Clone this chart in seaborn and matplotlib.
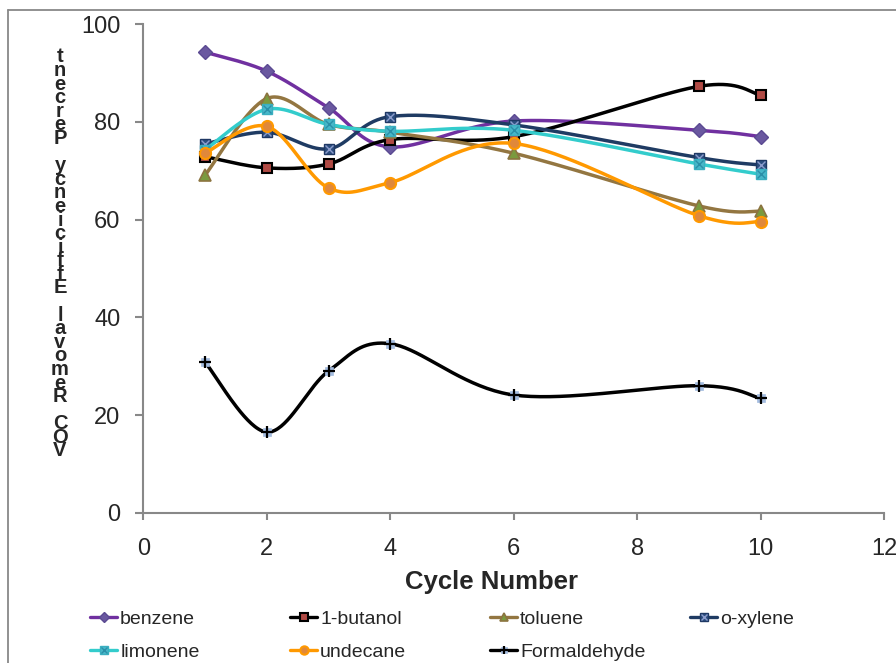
import numpy as np
import pandas as pd
import matplotlib
matplotlib.use("Agg")
import matplotlib.pyplot as plt
from matplotlib.lines import Line2D
from matplotlib.legend_handler import HandlerTuple
import seaborn as sns

# ---------------- data ----------------
cycles = [1, 2, 3, 4, 6, 9, 10]
benzene = [94.3, 90.4, 82.9, 74.9, 80.2, 78.3, 77.0]
butanol = [72.9, 70.6, 71.4, 76.4, 77.0, 87.3, 85.5]
toluene = [69.1, 84.8, 79.5, 77.9, 73.6, 62.8, 61.7]
oxylene = [75.5, 77.9, 74.5, 81.1, 79.4, 72.7, 71.2]
limonene = [74.3, 82.6, 79.5, 78.1, 78.3, 71.4, 69.3]
undecane = [73.6, 79.1, 66.5, 67.6, 75.6, 60.8, 59.6]
formaldehyde = [30.8, 16.5, 29.0, 34.6, 24.1, 26.0, 23.4]
series_names = ["benzene", "1-butanol", "toluene", "o-xylene", "limonene", "undecane", "Formaldehyde"]
x_ticks = [0, 2, 4, 6, 8, 10, 12]
y_ticks = [0, 20, 40, 60, 80, 100]
x_label = "Cycle Number"
y_label = "VOC Removal Efficiency Percent"

values = [benzene, butanol, toluene, oxylene, limonene, undecane, formaldehyde]

# ---------------- styles ----------------
styles = {
    "benzene": dict(line="#7030A0", markers=[dict(marker="D", fc="#6A58A0", ec="#5B4A92", ms=7.0, mew=1.0)]),
    "1-butanol": dict(line="#000000", markers=[dict(marker="s", fc="#B04A44", ec="#000000", ms=7.5, mew=1.5)]),
    "toluene": dict(line="#937641", markers=[dict(marker="^", fc="#7A9A3E", ec="#8C7440", ms=8.0, mew=1.2)]),
    "o-xylene": dict(line="#1F3B63", markers=[dict(marker="s", fc="#2D4F80", ec="#1F3864", ms=7.5, mew=1.0),
                                               dict(marker="x", fc="none", ec="#8C9CCC", ms=6.0, mew=1.0)]),
    "limonene": dict(line="#33CCCC", markers=[dict(marker="s", fc="#47B7C9", ec="#3AAFC0", ms=7.0, mew=1.0),
                                               dict(marker="x", fc="none", ec="#2A8FA8", ms=6.0, mew=1.0)]),
    "undecane": dict(line="#FF9900", markers=[dict(marker="o", fc="#E0883A", ec="#FF9900", ms=8.0, mew=1.5)]),
    "Formaldehyde": dict(line="#000000", markers=[dict(marker="s", fc="#A4BCE0", ec="#A4BCE0", ms=6.0, mew=0.5),
                                                   dict(marker="+", fc="none", ec="#000000", ms=8.0, mew=1.6)]),
}


def smooth_curve(x, y, n=40):
    """Excel-like smoothed line (Catmull-Rom as cubic Bezier)."""
    P = np.column_stack([x, y]).astype(float)
    out = []
    for i in range(len(P) - 1):
        p0 = P[i - 1] if i > 0 else P[i]
        p1, p2 = P[i], P[i + 1]
        p3 = P[i + 2] if i + 2 < len(P) else P[i + 1]
        c1 = p1 + (p2 - p0) / 6.0
        c2 = p2 - (p3 - p1) / 6.0
        t = np.linspace(0, 1, n)[:, None]
        seg = (1 - t) ** 3 * p1 + 3 * (1 - t) ** 2 * t * c1 + 3 * (1 - t) * t ** 2 * c2 + t ** 3 * p2
        out.append(seg if i == 0 else seg[1:])
    return np.vstack(out)


sns.set_style("white")
plt.rcParams["font.family"] = ["Liberation Sans", "DejaVu Sans"]

W, H = 896, 663
fig = plt.figure(figsize=(W / 100, H / 100), dpi=100)
ax_l, ax_r, ax_b, ax_t = 143.3, 884.3, 512.7, 24.3
ax = fig.add_axes([ax_l / W, 1 - ax_b / H, (ax_r - ax_l) / W, (ax_b - ax_t) / H])

legend_handles = []
for k, (name, vals) in enumerate(zip(series_names, values)):
    st = styles[name]
    curve = smooth_curve(cycles, vals)
    df = pd.DataFrame({"x": curve[:, 0], "y": curve[:, 1]})
    sns.lineplot(data=df, x="x", y="y", sort=False, estimator=None, ax=ax,
                 color=st["line"], linewidth=2.5, zorder=2 + k * 2, legend=False)
    for m in st["markers"]:
        ax.plot(cycles, vals, linestyle="none", marker=m["marker"], markersize=m["ms"],
                markerfacecolor=m["fc"], markeredgecolor=m["ec"], markeredgewidth=m["mew"],
                zorder=3 + k * 2, clip_on=False)
    parts = [Line2D([], [], color=st["line"], linewidth=2.4)]
    for m in st["markers"]:
        parts.append(Line2D([], [], linestyle="none", marker=m["marker"], markersize=m["ms"] * 0.75,
                            markerfacecolor=m["fc"], markeredgecolor=m["ec"],
                            markeredgewidth=m["mew"]))
    legend_handles.append(tuple(parts))

ax.set_xlim(0, 12)
ax.set_ylim(0, 100)
ax.set_xticks(x_ticks)
ax.set_yticks(y_ticks)
ax.set_xlabel("")
ax.set_ylabel("")
for s in ["top", "right"]:
    ax.spines[s].set_visible(False)
for s in ["left", "bottom"]:
    ax.spines[s].set_color("#888888")
    ax.spines[s].set_linewidth(1.5)
ax.tick_params(axis="y", direction="out", length=6, width=1.5, color="#888888",
               labelsize=17, pad=10.5, left=True)
ax.tick_params(axis="x", direction="out", length=5, width=1.5, color="#888888",
               labelsize=17, pad=13, bottom=True)
ax.grid(False)

# x-axis title
fig.text(491 / W, 1 - 582 / H, x_label, ha="center", va="center",
         fontsize=18.5, fontweight="bold")

# stacked, reversed y-axis title (as in the reference): one glyph per position
chars = list(y_label[::-1])
y_top, y_bot = 57, 451
step = (y_bot - y_top) / (len(chars) - 1)
for i, ch in enumerate(chars):
    if ch == " ":
        continue
    fig.text(60 / W, 1 - (y_top + i * step) / H, ch, ha="center", va="center",
             fontsize=14.5, fontweight="bold")

# legend: four columns
col_x = [90, 290, 490, 690]
for c in range(4):
    idx = [c, c + 4] if c + 4 < len(series_names) else [c]
    fig.legend([legend_handles[i] for i in idx], [series_names[i] for i in idx],
               loc="upper left", bbox_to_anchor=(col_x[c] / W, 1 - 610 / H),
               frameon=False, fontsize=14, handlelength=1.4, handletextpad=0.15,
               borderpad=0, borderaxespad=0, labelspacing=0.8,
               handler_map={tuple: HandlerTuple(ndivide=1, pad=0)})

# outer chart border (partially cropped)
fig.add_artist(Line2D([8 / W, 8 / W], [0, 1 - 10 / H], color="#888888", linewidth=1.3,
                      transform=fig.transFigure))
fig.add_artist(Line2D([8 / W, 1], [1 - 10 / H, 1 - 10 / H], color="#888888", linewidth=1.3,
                      transform=fig.transFigure))

fig.savefig("out.png", dpi=100)
